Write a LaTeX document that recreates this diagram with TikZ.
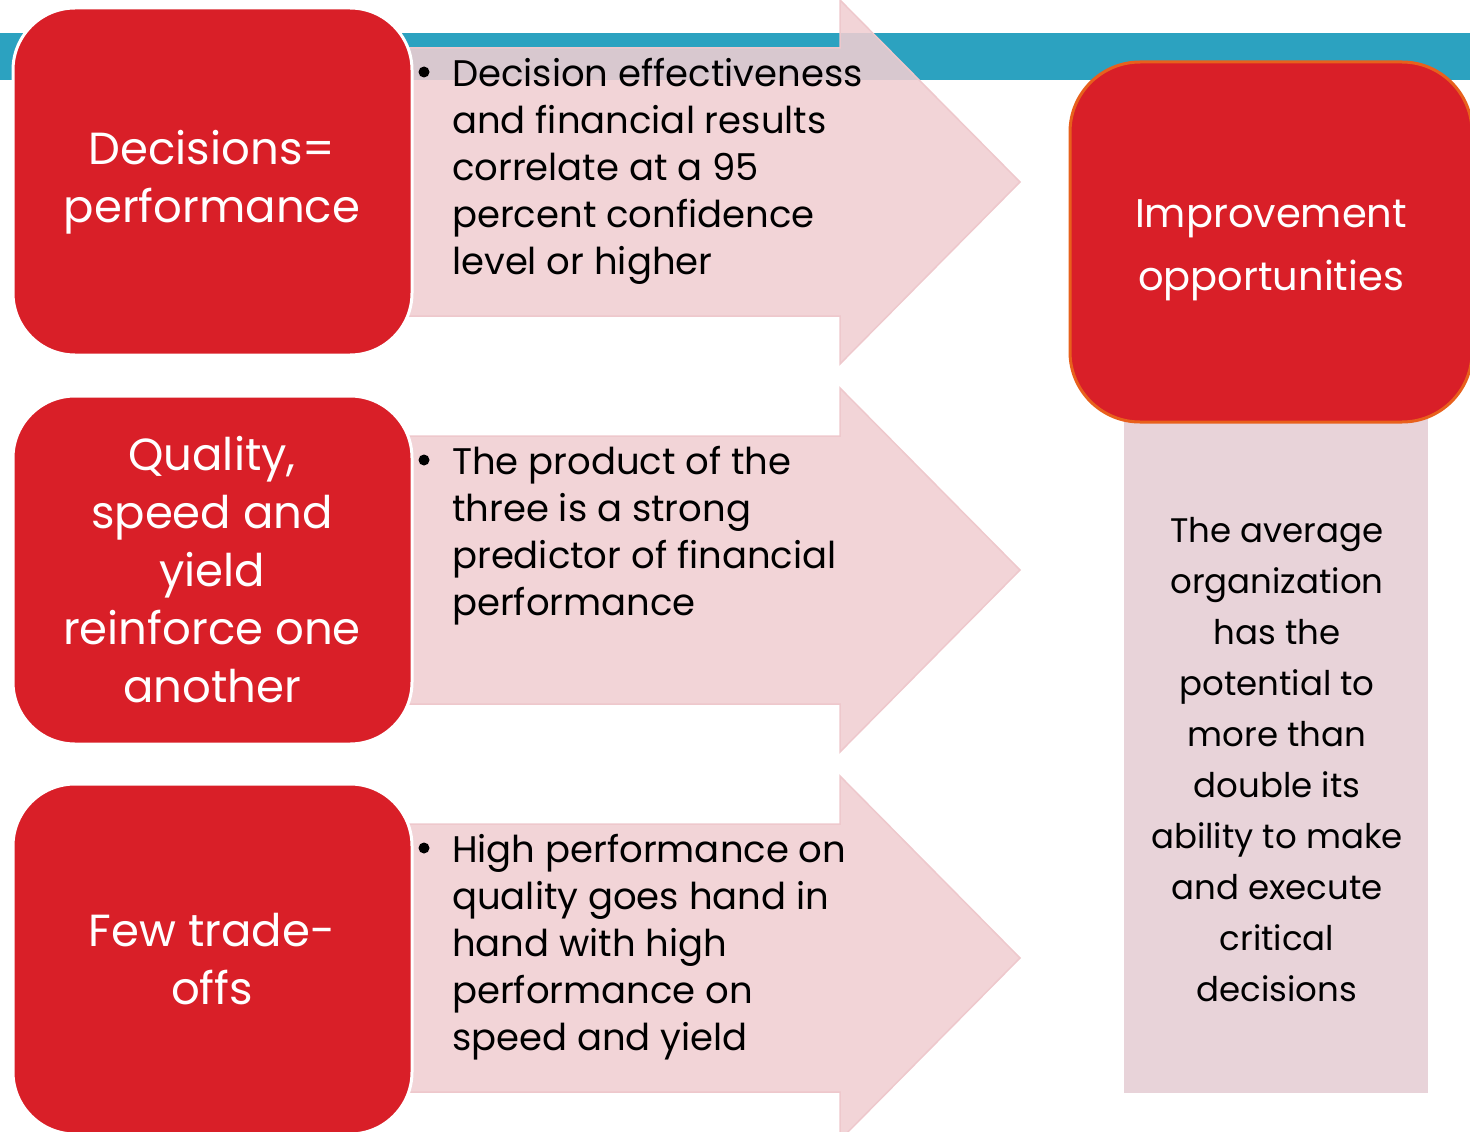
\documentclass[tikz,border=0pt]{standalone}
\usepackage{fontspec}
\setmainfont{Poppins}
\definecolor{barblue}{RGB}{44,162,192}
\definecolor{boxred}{RGB}{217,31,40}
\definecolor{edgeorange}{RGB}{232,96,28}
\definecolor{arrowpink}{RGB}{240,206,210}
\definecolor{arrowedge}{RGB}{238,200,204}
\definecolor{notepink}{RGB}{232,211,217}
\tikzset{
  redbox/.style={fill=boxred, draw=white, line width=3pt, rounded corners=62pt},
  bigarrow/.style={fill=arrowpink, draw=arrowedge, line width=1.5pt, fill opacity=0.88},
  redtext/.style={text=white, align=center, font=\fontsize{45}{58}\selectfont, inner sep=0pt},
  arrowtext/.style={text=black, align=left, anchor=north west, font=\fontsize{37}{47}\selectfont, inner sep=0pt},
  bulletdot/.style={circle, fill=black, minimum size=11pt, inner sep=0pt},
  notetext/.style={text=black, align=center, font=\fontsize{34}{51}\selectfont, inner sep=0pt},
}
\begin{document}
\begin{tikzpicture}[x=1pt,y=-1pt]
\useasboundingbox (0,0) rectangle (1470,1132);
\clip (0,0) rectangle (1470,1132);
% top bar
\fill[barblue] (0,33) rectangle (1470,80);
% arrows
\foreach \c in {182,570,958}{
  \draw[bigarrow] (400,\c-134) -- (840,\c-134) -- (840,\c-182) -- (1020,\c)
     -- (840,\c+182) -- (840,\c+134) -- (400,\c+134) -- cycle;
}
% left boxes
\draw[redbox] (13,8) rectangle (412,355);
\draw[redbox] (13,396) rectangle (412,744);
\draw[redbox] (13,784) rectangle (412,1134);
\node[redtext] (b1) at (212,182) {Decisions=\\performance};
\node[redtext] (b2) at (212,570) {Quality,\\speed and\\yield\\reinforce one\\another};
\node[redtext] (b3) at (212,959) {Few trade-\\offs};
% arrow texts
\node[bulletdot] (u1) at (424,72) {};
\node[arrowtext] (t1) at (452,58) {Decision effectiveness\\and financial results\\correlate at a 95\\percent confidence\\level or higher};
\node[bulletdot] (u2) at (424,460) {};
\node[arrowtext] (t2) at (452,446) {The product of the\\three is a strong\\predictor of financial\\performance};
\node[bulletdot] (u3) at (424,848) {};
\node[arrowtext] (t3) at (452,834) {High performance on\\quality goes hand in\\hand with high\\performance on\\speed and yield};
% right side
\fill[notepink] (1124,418) rectangle (1428,1093);
\draw[fill=boxred, draw=edgeorange, line width=3pt, rounded corners=70pt] (1070,62) rectangle (1472,422);
\node[text=white, align=center, font=\fontsize{40}{63}\selectfont, inner sep=0pt] (imp) at (1271,250) {Improvement\\opportunities};
\node[notetext] (note) at (1277,760) {The average\\organization\\has the\\potential to\\more than\\double its\\ability to make\\and execute\\critical\\decisions};
\end{tikzpicture}
\end{document}
